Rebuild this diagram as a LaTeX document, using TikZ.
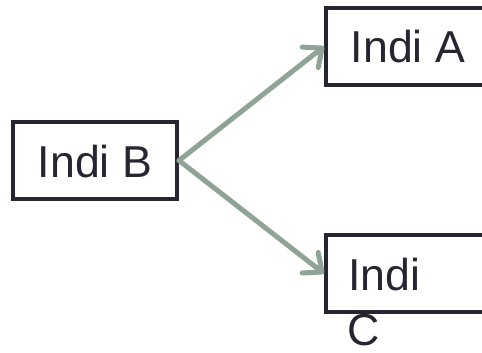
\documentclass[tikz,border=0pt]{standalone}
\usepackage{fontspec}
\setmainfont{Liberation Sans}
\usetikzlibrary{arrows.meta}
\definecolor{boxline}{HTML}{262630}
\definecolor{conncol}{HTML}{8FA396}
\begin{document}
\begin{tikzpicture}[x=1pt,y=-1pt,
  box/.style={draw=boxline, line width=4pt, rectangle, inner sep=0pt,
    minimum width=164pt, minimum height=77pt, text height=33pt, text depth=0pt,
    font=\fontsize{44.7}{54}\selectfont, text=boxline},
  conn/.style={draw=conncol, line width=5pt, line cap=round,
    -{Straight Barb[length=15pt, width=26pt, line join=round, line cap=round]}},
  plain/.style={inner sep=0pt, font=\fontsize{44.7}{54}\selectfont, text=boxline}]
\useasboundingbox (0,0) rectangle (482,353);
\node[box] (B) at (95,160.5) {Indi B};
\node[box] (A) at (408,46.5) {Indi A};
\node[box, text width=120pt, align=left] (C) at (408,273.5) {Indi};
\node[plain, anchor=base west] (Cw) at (347,345) {C};
\draw[conn] (B.east) -- (A.west);
\draw[conn] (B.east) -- (C.west);
\end{tikzpicture}
\end{document}
